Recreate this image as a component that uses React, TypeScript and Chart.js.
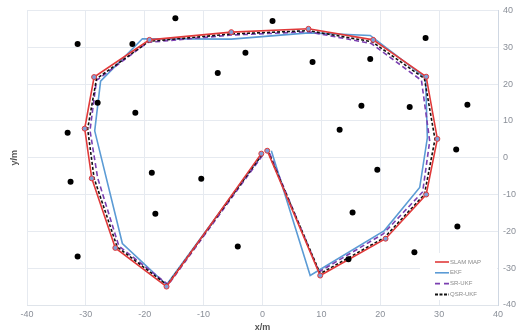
import React, { useEffect, useRef } from "react";
import { Chart, registerables } from "chart.js";

Chart.register(...registerables);

const xTicks = [-40, -30, -20, -10, 0, 10, 20, 30, 40];
const yTicks = [-40, -30, -20, -10, 0, 10, 20, 30, 40];

const seriesNames = ["SLAM MAP", "EKF", "SR-UKF", "QSR-UKF"];

const slamX = [-0.2, -16.3, -25.0, -29.0, -30.2, -28.6, -19.2, -5.3, 7.8, 18.8, 27.8, 29.7, 27.8, 20.9, 9.8, 0.8];
const slamY = [1.1, -35.0, -24.5, -5.6, 7.9, 21.9, 32.0, 34.1, 35.0, 32.0, 22.0, 5.1, -10.0, -22.0, -32.0, 1.9];

const ekfX = [0.0, -16.3, -23.8, -28.5, -27.5, -20.4, -5.3, 7.8, 18.3, 27.7, 28.0, 26.7, 20.7, 8.1, 1.5];
const ekfY = [1.0, -34.5, -23.3, 7.3, 20.8, 32.3, 32.2, 33.9, 33.2, 21.7, 5.4, -8.1, -19.8, -32.0, 1.9];

const srX = [0.0, -16.0, -24.4, -28.0, -29.3, -28.2, -19.5, -5.3, 7.8, 18.5, 27.0, 28.4, 27.2, 20.5, 9.6, 1.1];
const srY = [0.6, -34.5, -24.0, -5.5, 7.4, 21.0, 31.3, 33.3, 34.2, 31.0, 21.0, 4.5, -9.3, -20.7, -31.0, 1.6];

const qsrX = [-0.1, -16.2, -24.7, -28.6, -29.7, -28.2, -19.3, -5.3, 7.8, 18.6, 27.5, 29.3, 27.5, 20.7, 9.8, 0.9];
const qsrY = [0.8, -34.6, -24.2, -5.6, 7.8, 21.4, 31.6, 33.6, 34.5, 31.5, 21.5, 5.0, -10.0, -21.7, -31.5, 1.8];

const landmarkX = [-14.8, -31.4, -22.1, 1.7, 27.7, -7.6, -2.9, 8.5, 18.3, 16.8, 25.0, 34.8, -28.0, -21.6, -33.1, -32.6, -31.4, -18.8, -10.4, -18.2, -4.2, 13.1, 32.9, 19.5, 15.3, 33.1, 25.8, 14.6];
const landmarkY = [37.9, 30.9, 30.9, 37.1, 32.5, 23.0, 28.5, 26.0, 26.8, 14.1, 13.8, 14.4, 14.9, 12.2, 6.8, -6.5, -26.8, -4.1, -5.7, -15.2, -24.1, 7.6, 2.2, -3.3, -14.9, -18.7, -25.7, -27.6];

const pts = (xs: number[], ys: number[]) => xs.map((x, i) => ({ x, y: ys[i] }));

const colors = ["#e03a3a", "#5b9bd5", "#7a3fb0", "#111111"];
const dashes: number[][] = [[], [], [5, 3], [3, 2]];

const FONT = "'Liberation Sans', Arial, sans-serif";

const legendPlugin = {
  id: "customLegend",
  afterDatasetsDraw(chart: any) {
    const ctx = chart.ctx;
    const area = chart.chartArea;
    ctx.save();
    const bx = area.right - 78;
    const by = area.bottom - 52;
    ctx.fillStyle = "#ffffff";
    ctx.fillRect(bx, by, 77, 47);
    const lx = area.right - 63;
    let ly = area.bottom - 43;
    ctx.font = "6px " + FONT;
    ctx.textBaseline = "middle";
    for (let i = 0; i < seriesNames.length; i++) {
      ctx.strokeStyle = colors[i];
      ctx.lineWidth = i === 3 ? 2 : 1.6;
      ctx.setLineDash(dashes[i].length ? (i === 2 ? [5, 4] : [3, 1.5]) : []);
      ctx.beginPath();
      ctx.moveTo(lx, ly);
      ctx.lineTo(lx + 14, ly);
      ctx.stroke();
      ctx.setLineDash([]);
      ctx.fillStyle = "#8a8a8a";
      ctx.fillText(seriesNames[i], lx + 15, ly);
      ly += 10.8;
    }
    ctx.restore();
  },
};

export default function App() {
  const ref = useRef<HTMLCanvasElement | null>(null);
  useEffect(() => {
    document.body.style.margin = "0";
    const canvas = ref.current;
    if (!canvas) return;
    const lineDs = (i: number, xs: number[], ys: number[]) => ({
      label: seriesNames[i],
      data: pts(xs, ys),
      showLine: true,
      borderColor: colors[i],
      backgroundColor: colors[i],
      borderWidth: i === 3 ? 1.6 : 1.6,
      borderDash: dashes[i],
      pointRadius: i === 0 ? 2.5 : 0,
      pointBorderWidth: 1,
      pointBorderColor: colors[0],
      pointBackgroundColor: "#7f9fd8",
      tension: 0,
    });
    const chart = new Chart(canvas, {
      type: "scatter",
      data: {
        datasets: [
          {
            label: "landmarks",
            data: pts(landmarkX, landmarkY),
            pointRadius: 3,
            pointBackgroundColor: "#000000",
            pointBorderColor: "#000000",
            pointBorderWidth: 0,
            showLine: false,
          } as any,
          lineDs(0, slamX, slamY),
          lineDs(3, qsrX, qsrY),
          lineDs(2, srX, srY),
          lineDs(1, ekfX, ekfY),
        ],
      },
      plugins: [legendPlugin],
      options: {
        animation: false,
        responsive: false,
        maintainAspectRatio: false,
        layout: { padding: { top: 10, left: 0, right: 0, bottom: 0 } },
        plugins: {
          legend: { display: false },
          tooltip: { enabled: false },
        },
        scales: {
          x: {
            type: "linear",
            min: -40,
            max: 40,
            afterBuildTicks: (axis: any) => {
              axis.ticks = xTicks.map((v) => ({ value: v }));
            },
            afterFit: (axis: any) => {
              axis.height = 28;
            },
            grid: { color: "#e6eaf0", drawTicks: false, lineWidth: 1 },
            border: { display: true, color: "#dfe4ea" },
            ticks: { color: "#8a8f98", font: { size: 9, family: FONT }, padding: 4, maxRotation: 0 },
            title: {
              display: true,
              text: "x/m",
              color: "#555555",
              font: { size: 9, weight: "bold", family: FONT },
              padding: { top: 0, bottom: 0 },
            },
          },
          y: {
            type: "linear",
            position: "right",
            min: -40,
            max: 40,
            afterBuildTicks: (axis: any) => {
              axis.ticks = yTicks.map((v) => ({ value: v }));
            },
            afterFit: (axis: any) => {
              axis.width = 20;
            },
            grid: { color: "#e6eaf0", drawTicks: false, lineWidth: 1 },
            border: { display: true, color: "#cfd7e2" },
            ticks: { color: "#8a8f98", font: { size: 9, family: FONT }, padding: 5 },
          },
          yl: {
            type: "linear",
            position: "left",
            min: -40,
            max: 40,
            afterFit: (axis: any) => {
              axis.width = 27;
            },
            grid: { display: false },
            border: { display: false },
            ticks: { display: false },
            title: {
              display: true,
              text: "y/m",
              color: "#555555",
              font: { size: 9, weight: "bold", family: FONT },
              padding: { top: 9, bottom: 0 },
            },
          },
        },
      } as any,
    });
    return () => chart.destroy();
  }, []);
  return <canvas ref={ref} width={518} height={333} style={{ display: "block" }} />;
}
